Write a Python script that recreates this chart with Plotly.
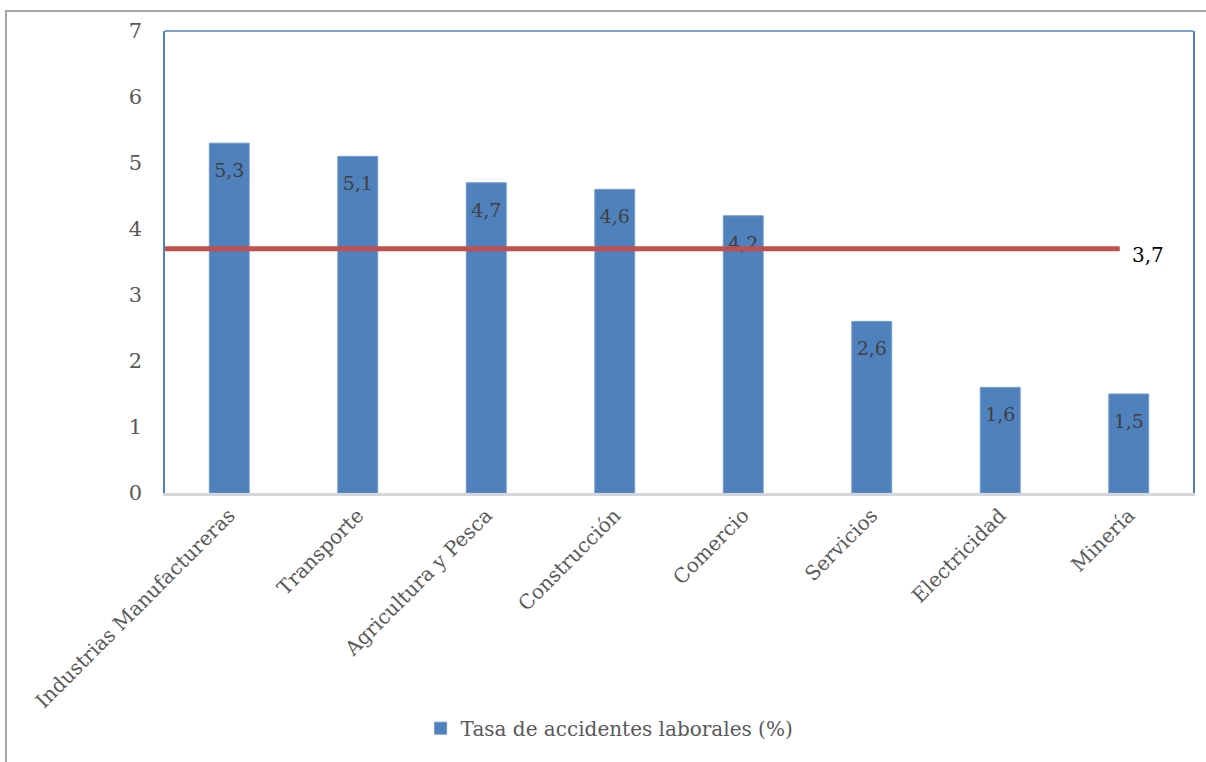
import plotly.graph_objects as go

# Tasa de accidentes laborales por sector (%)
sectors = ["Industrias Manufactureras", "Transporte", "Agricultura y Pesca",
           "Construcción", "Comercio", "Servicios", "Electricidad", "Minería"]
rates = [5.3, 5.1, 4.7, 4.6, 4.2, 2.6, 1.6, 1.5]
y_ticks = [0, 1, 2, 3, 4, 5, 6, 7]

# Promedio de todos los sectores, dibujado como línea horizontal
average = round(sum(rates) / len(rates), 1)
avg_line_x = [-0.53, 6.93]

FONT = "DejaVu Serif"
BAR_BLUE = "#4F81BD"
LINE_RED = "#C0504D"


def es_num(v):
    return f"{v:.1f}".replace(".", ",")


positions = list(range(len(sectors)))

fig = go.Figure()

fig.add_trace(go.Bar(
    x=positions,
    y=rates,
    width=0.31,
    marker=dict(color=BAR_BLUE, line=dict(color="#6E97CB", width=1)),
    name="Tasa de accidentes laborales (%)",
    showlegend=True,
    hoverinfo="skip",
))

# Etiquetas de valor, dentro de cada barra, bajo su extremo superior
fig.add_trace(go.Scatter(
    x=positions,
    y=rates,
    mode="markers+text",
    marker=dict(size=30, opacity=0),
    text=[es_num(v) for v in rates],
    textposition="bottom center",
    textfont=dict(family=FONT, size=19, color="#404040"),
    showlegend=False,
    hoverinfo="skip",
    cliponaxis=False,
))

fig.add_trace(go.Scatter(
    x=avg_line_x,
    y=[average, average],
    mode="lines",
    line=dict(color=LINE_RED, width=5),
    showlegend=False,
    hoverinfo="skip",
))

fig.add_annotation(
    x=avg_line_x[1], y=average, xref="x", yref="y",
    text=es_num(average), showarrow=False,
    xanchor="left", yanchor="middle", xshift=10, yshift=-6,
    font=dict(family=FONT, size=20, color="#000000"),
)

# Borde superior azul del área de trazado y marco gris del gráfico completo
fig.add_shape(type="line", xref="paper", yref="paper", x0=0, x1=1, y0=1, y1=1,
              line=dict(color=BAR_BLUE, width=1.5), layer="below")
fig.add_shape(type="rect", xref="paper", yref="paper",
              x0=-0.1547, x1=1.2, y0=-1.0, y1=1.0433,
              line=dict(color="#A6A6A6", width=2), layer="below")

fig.update_layout(
    width=1206, height=762,
    margin=dict(l=165, r=13, t=31, b=269),
    paper_bgcolor="white", plot_bgcolor="white",
    font=dict(family=FONT, size=20, color="#595959"),
    bargap=0.69,
    legend=dict(
        orientation="h", x=0.4325, xanchor="center", y=-0.509, yanchor="middle",
        font=dict(family=FONT, size=20, color="#595959"),
        itemwidth=30,
    ),
    xaxis=dict(
        tickmode="array", tickvals=positions, ticktext=sectors,
        tickangle=-45, range=[-0.5, len(sectors) - 0.5],
        showline=True, linecolor="#D3D6DB", linewidth=2.5,
        showgrid=False, zeroline=False, ticks="",
        tickfont=dict(family=FONT, size=20, color="#595959"),
    ),
    yaxis=dict(
        range=[0, 7], tickmode="array", tickvals=y_ticks,
        showline=True, mirror=True, linecolor=BAR_BLUE, linewidth=1.5,
        showgrid=False, zeroline=False, ticks="",
        ticklabelstandoff=17,
        tickfont=dict(family=FONT, size=21, color="#595959"),
    ),
)

fig.write_html("out.html")
